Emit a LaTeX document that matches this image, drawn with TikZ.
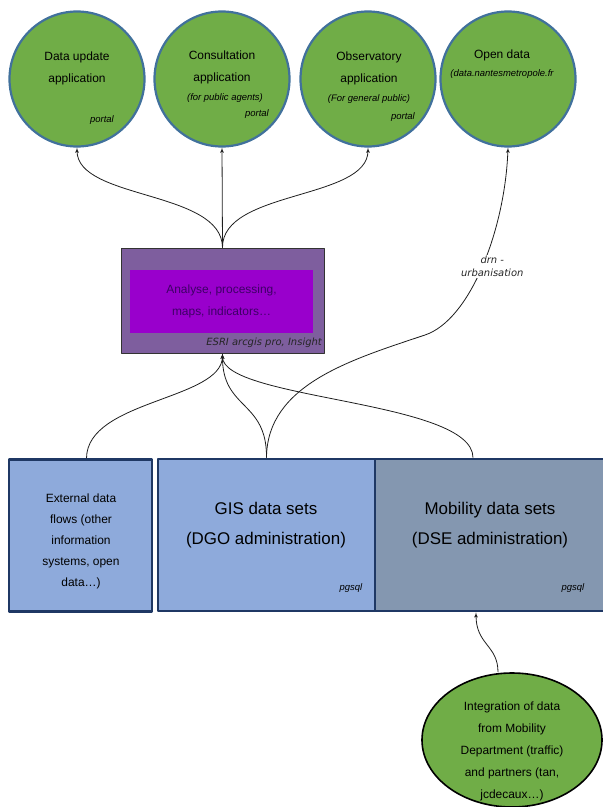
\documentclass[tikz,border=0pt]{standalone}
\usepackage{fontspec}
\setmainfont{Liberation Sans}
\newfontfamily\esrifont{DejaVu Sans}
\usetikzlibrary{arrows,shapes}

\definecolor{appgreen}{RGB}{112,173,71}
\definecolor{appborder}{RGB}{65,113,156}
\definecolor{esriouter}{RGB}{126,94,158}
\definecolor{esriinner}{RGB}{153,0,204}
\definecolor{esritext}{RGB}{62,0,102}
\definecolor{extfill}{RGB}{142,170,219}
\definecolor{mobfill}{RGB}{132,151,176}
\definecolor{boxborder}{RGB}{31,56,100}
\definecolor{edgecol}{RGB}{30,30,30}

\begin{document}
\begin{tikzpicture}[>=latex',line join=bevel,x=1bp,y=-1bp,
  app/.style={circle,draw=appborder,fill=appgreen,line width=2.2bp,minimum size=135bp,inner sep=0pt},
  apptext/.style={align=center,inner sep=0pt,font=\fontsize{12}{22}\selectfont},
  smallit/.style={inner sep=0pt,font=\fontsize{9.5}{12}\selectfont\itshape},
  esritxt/.style={inner sep=0pt,font=\esrifont\fontsize{10}{12}\selectfont\itshape},
  datasets/.style={draw=boxborder,line width=2.6bp,inner sep=0pt,minimum height=152bp},
  edge/.style={->,draw=edgecol,line width=0.8bp},
]
  \useasboundingbox (0,0) rectangle (603,807);
%%
  % Node: update
  \node[app] (update) at (77,79) {};
  \node[apptext] (updatetxt) at (77,68) {Data update\\application};
  \node[smallit] (updateportal) at (102,120) {portal};
  % Node: consult
  \node[app] (consult) at (222,79) {};
  \node[apptext] (consulttxt) at (222,67) {Consultation\\application};
  \node[smallit] (consultfor) at (225,98) {(for public agents)};
  \node[smallit] (consultportal) at (257,114) {portal};
  % Node: observ
  \node[app] (observ) at (368,79) {};
  \node[apptext] (observtxt) at (369,68) {Observatory\\application};
  \node[smallit] (observfor) at (369,99) {(For general public)};
  \node[smallit] (observportal) at (403,117) {portal};
  % Node: opendata
  \node[app] (opendata) at (508,79) {};
  \node[apptext] (opendatatxt) at (502,55) {Open data};
  \node[smallit] (opendataurl) at (502,74) {(data.nantesmetropole.fr};
  % Node: esri
  \node[draw=black!80,fill=esriouter,line width=1bp,minimum width=203bp,minimum height=105bp] (esri) at (222.5,300.5) {};
  \node[fill=esriinner,minimum width=183bp,minimum height=63bp,align=center,text=esritext,
        font=\fontsize{12}{22}\selectfont] (analyse) at (221.5,301.5) {Analyse, processing,\\maps, indicators…};
  \node[esritxt,anchor=east,text=black!85] (esriname) at (322,343) {ESRI arcgis pro, Insight};
  % Node: external
  \node[datasets,fill=extfill,minimum width=143bp] (external) at (80.5,535.5) {};
  \node[apptext,font=\fontsize{12}{21}\selectfont] (externaltxt) at (81,541.5)
    {External data\\flows (other\\information\\systems, open\\data…)};
  % Node: gis
  \node[datasets,fill=extfill,minimum width=217bp] (gis) at (266.5,535) {};
  \node[apptext,font=\fontsize{17}{30}\selectfont] (gistxt) at (266,525) {GIS data sets\\(DGO administration)};
  \node[smallit] (gispgsql) at (351,588) {pgsql};
  % Node: mobility
  \node[datasets,fill=mobfill,minimum width=238bp] (mobility) at (494,535) {};
  \node[apptext,font=\fontsize{17}{30}\selectfont] (mobilitytxt) at (490,525) {Mobility data sets\\(DSE administration)};
  \node[smallit] (mobilitypgsql) at (573,588) {pgsql};
  % Node: integration
  \node[ellipse,draw=black,fill=appgreen,line width=1.6bp,minimum width=180bp,minimum height=134bp,inner sep=0pt]
    (integration) at (512,740) {};
  \node[apptext] (integrationtxt) at (512,751.5)
    {Integration of data\\from Mobility\\Department (traffic)\\and partners (tan,\\jcdecaux…)};
%
  % Edge: esri -> update
  \draw[edge] (esri.north) .. controls (222,190) and (77,200) .. (update.south);
  % Edge: esri -> consult
  \draw[edge] (esri.north) -- (consult.south);
  % Edge: esri -> observ
  \draw[edge] (esri.north) .. controls (222,190) and (368,200) .. (observ.south);
  % Edge: gis -> opendata
  \coordinate (drnbend) at (425,335);
  \draw[edge] (gis.north) .. controls (267,385) and (350,360) .. (drnbend)
    .. controls (470,320) and (505,230) .. (opendata.south)
    node[pos=0.5,fill=white,inner sep=1bp,align=center,xshift=10bp,font=\esrifont\fontsize{10}{13}\selectfont\itshape,text=black!85]
    (drn) {drn -\\urbanisation};
  % Edge: external -> esri
  \draw[edge] ([xshift=6bp]external.north) .. controls (87,400) and (222,400) .. (esri.south);
  % Edge: gis -> esri
  \draw[edge] (gis.north) .. controls (267,400) and (222,410) .. (esri.south);
  % Edge: mobility -> esri
  \draw[edge] ([xshift=-21bp]mobility.north) .. controls (473,400) and (222,400) .. (esri.south);
  % Edge: integration -> mobility
  \draw[edge] ([xshift=-14bp]integration.north) .. controls (498,645) and (476,645) .. ([xshift=-18bp]mobility.south);
%
\end{tikzpicture}
\end{document}
